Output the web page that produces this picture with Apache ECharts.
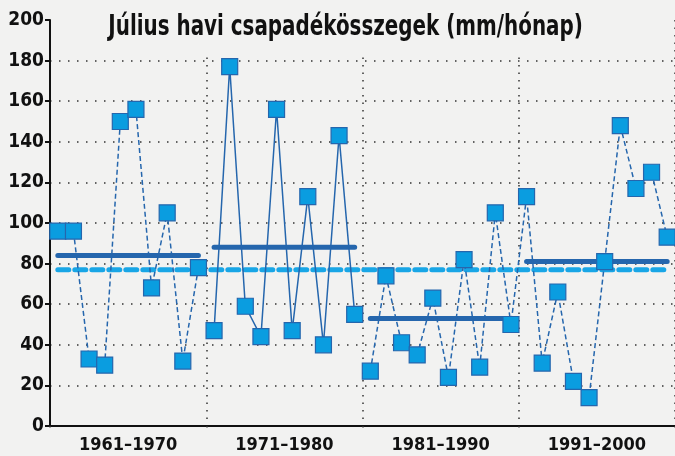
<!DOCTYPE html>
<html lang="hu">
<head>
	<meta charset="UTF-8">
	<title>Július havi csapadékösszegek</title>
	<script type="text/javascript" src="https://cdn.jsdelivr.net/npm/echarts@6/dist/echarts.min.js"></script>
	<style>
		html, body { margin: 0; padding: 0; background: #f2f2f1; }
	</style>
</head>
<body>
	<div id="main" style="width: 675px;height: 456px;"></div>
	<script type="text/javascript">
		// years and decade labels
		var years = [];
		for (var y = 1961; y <= 2000; y++) years.push(String(y));
		var decades = ['1961–1970', '1971–1980', '1981–1990', '1991–2000'];
		var yTicks = [0, 20, 40, 60, 80, 100, 120, 140, 160, 180, 200];

		// July precipitation per year (mm)
		var rain6170 = [96, 96, 33, 30, 150, 156, 68, 105, 32, 78];
		var rain7180 = [47, 177, 59, 44, 156, 47, 113, 40, 143, 55];
		var rain8190 = [27, 74, 41, 35, 63, 24, 82, 29, 105, 50];
		var rain9100 = [113, 31, 66, 22, 14, 81, 148, 117, 125, 93];

		// decade means and the 40-year mean
		var decadeMeans = [84, 88, 53, 81];
		var totalMean = 77;

		var font = "'DejaVu Sans Condensed', 'Liberation Sans Narrow', sans-serif";
		var darkBlue = '#2566ad';
		var markFill = '#0a9de0';
		var lightBlue = '#19a6e6';

		// place values into a 40-long array, null elsewhere
		function place(start, vals) {
			var arr = new Array(years.length).fill(null);
			for (var i = 0; i < vals.length; i++) arr[start + i] = vals[i];
			return arr;
		}
		function flat(start, n, v) {
			var arr = new Array(years.length).fill(null);
			for (var i = 0; i < n; i++) arr[start + i] = v;
			return arr;
		}

		var marker = {
			symbol: 'rect',
			symbolSize: 16,
			showAllSymbol: true,
			itemStyle: { color: markFill, borderColor: darkBlue, borderWidth: 1.2 }
		};

		var series = [];
		decadeMeans.forEach(function (m, i) {
			series.push({
				type: 'line', z: 1, silent: true, showSymbol: false,
				data: flat(i * 10, 10, m),
				lineStyle: { color: darkBlue, width: 5, cap: 'round' }
			});
		});
		series.push({
			type: 'line', z: 1, silent: true, showSymbol: false,
			data: flat(0, 40, totalMean),
			lineStyle: { color: lightBlue, width: 5, type: [11, 6], cap: 'round' }
		});
		series.push(Object.assign({
			type: 'line', z: 3, data: place(0, rain6170),
			lineStyle: { color: darkBlue, width: 1.5, type: [5, 3] }
		}, marker));
		series.push(Object.assign({
			type: 'line', z: 3, data: place(10, rain7180),
			lineStyle: { color: darkBlue, width: 1.5 }
		}, marker));
		series.push(Object.assign({
			type: 'line', z: 3, data: place(20, rain8190.concat(rain9100)),
			lineStyle: { color: darkBlue, width: 1.5, type: [5, 3] }
		}, marker));

		var myChart = echarts.init(document.getElementById('main'));
		var option = {
			backgroundColor: '#f2f2f1',
			animation: false,
			// title drawn as squeezed text so it looks like a condensed bold face
			graphic: [{
				type: 'text',
				x: 102,
				y: 10,
				scaleX: 0.79,
				z: 10,
				style: {
					text: 'Július havi csapadékösszegek (mm/hónap)',
					font: 'bold 28px ' + font,
					fill: '#111',
					backgroundColor: '#f2f2f1',
					padding: [4, 8, 10, 8],
					verticalAlign: 'top'
				}
			}],
			grid: { left: 50, right: 0, top: 20, bottom: 30, containLabel: false },
			xAxis: [{
				type: 'category',
				data: years,
				boundaryGap: true,
				axisLine: { show: true, lineStyle: { color: '#111', width: 2 } },
				axisTick: { show: false },
				axisLabel: { show: false },
				splitLine: { show: false }
			}, {
				type: 'category',
				data: decades,
				position: 'bottom',
				boundaryGap: true,
				axisLine: { show: false },
				axisTick: { show: true, length: 6, interval: 0, lineStyle: { color: '#333', width: 1.5, type: [1.5, 6] } },
				axisLabel: { interval: 0, margin: 10, fontFamily: font, fontWeight: 'bold', fontSize: 18, color: '#111' },
				splitLine: { show: true, interval: 0, lineStyle: { color: '#333', width: 1.5, type: [1.5, 6] } }
			}],
			yAxis: {
				type: 'value',
				min: yTicks[0],
				max: yTicks[yTicks.length - 1],
				interval: 20,
				axisLine: { show: true, lineStyle: { color: '#111', width: 2 } },
				axisTick: { show: true, length: 5, lineStyle: { color: '#111', width: 2 } },
				axisLabel: { margin: 6, fontFamily: font, fontWeight: 'bold', fontSize: 19, color: '#111' },
				splitLine: { show: true, showMaxLine: false, lineStyle: { color: '#333', width: 1.5, type: [1.5, 7.5] } }
			},
			series: series
		};
		myChart.setOption(option);
	</script>
</body>
</html>
